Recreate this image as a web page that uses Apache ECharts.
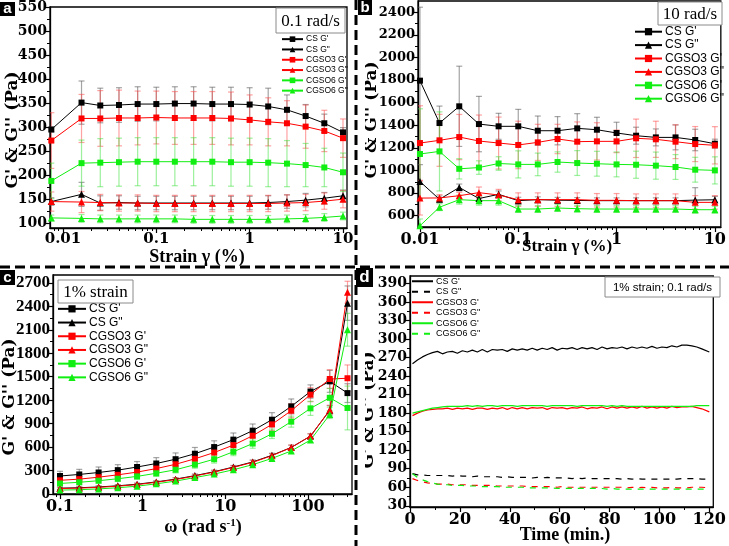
<!DOCTYPE html>
<html><head><meta charset="utf-8">
<script src="https://cdn.jsdelivr.net/npm/echarts@6/dist/echarts.min.js"></script>
<style>html,body{margin:0;padding:0;background:#fff}#c{width:729px;height:546px}</style>
</head><body><div id="c"></div>
<script>
// ---------- names ----------
const seriesNames = ["CS G'", 'CS G"', "CGSO3 G'", 'CGSO3 G"', "CGSO6 G'", 'CGSO6 G"'];

// ---------- panel a : strain sweep at 0.1 rad/s ----------
const aStrain = [0.0075,0.0158,0.0251,0.0398,0.0631,0.1,0.158,0.251,0.398,0.631,1,1.58,2.51,3.98,6.31,10];
const aCS_G1 = [295,351,345,346,348,348,349,349,348,348,347,343,336,323,308,289];
const aS3_G1 = [272,318,318,319,319,320,319,319,319,318,315,311,308,301,292,277];
const aS6_G1 = [188,225,226,227,228,228,228,228,228,227,227,226,224,221,216,206];
const aCS_G2 = [145,160,142,143,142,142,142,142,142,142,142,143,145,148,152,157];
const aS3_G2 = [145,144,143,142,142,141,141,141,141,141,141,141,142,143,146,150];
const aS6_G2 = [111,110,109,109,109,109,109,108,108,108,108,108,109,110,112,115];
const aCS_G1e = [5,45,36,36,36,35,35,35,35,35,35,38,31,24,19,10];
const aS3_G1e = [58,50,58,58,56,55,55,55,55,55,52,50,47,45,43,40];
const aS6_G1e = [37,48,50,50,50,50,50,50,50,50,50,50,48,45,40,40];
const aCS_G2e = [8,25,15,14,14,14,14,14,14,14,14,14,14,14,12,12];
const aS3_G2e = [20,22,17,17,17,17,17,17,17,17,17,17,17,17,17,18];
const aS6_G2e = [6,8,8,8,8,8,8,8,8,8,8,8,8,8,8,8];
const aXTicks = [0.01,0.1,1,10];
const aXMinor = [0.008,0.009,0.02,0.03,0.04,0.05,0.06,0.07,0.08,0.09,0.2,0.3,0.4,0.5,0.6,0.7,0.8,0.9,2,3,4,5,6,7,8,9];
const aYTicks = [100,150,200,250,300,350,400,450,500,550];
const aYMinor = [125,175,225,275,325,375,425,475,525];

// ---------- panel b : strain sweep at 10 rad/s ----------
const bStrain = [0.01,0.0158,0.0251,0.0398,0.0631,0.1,0.158,0.251,0.398,0.631,1,1.58,2.51,3.98,6.31,10];
const bCS_G1 = [1795,1420,1568,1411,1391,1391,1352,1352,1373,1361,1332,1308,1293,1293,1270,1237];
const bS3_G1 = [1243,1267,1296,1261,1243,1226,1249,1279,1255,1258,1258,1285,1276,1255,1234,1223];
const bS6_G1 = [1146,1169,1015,1026,1062,1054,1054,1075,1066,1060,1054,1051,1043,1031,1007,1001];
const bCS_G2 = [902,745,850,752,789,733,742,737,735,733,733,733,733,733,738,741];
const bS3_G2 = [756,757,777,804,783,742,742,742,742,736,736,733,733,733,718,718];
const bS6_G2 = [511,675,742,733,733,659,659,668,662,659,659,659,659,659,653,653];
const bCS_G1e = [650,150,355,245,115,150,130,125,130,110,95,75,75,110,95,40];
const bS3_G1e = [330,230,200,230,230,210,160,130,175,165,100,170,160,150,155,165];
const bS6_G1e = [400,350,90,60,60,120,100,90,110,110,110,120,120,110,110,120];
const bCS_G2e = [150,30,30,30,30,30,25,25,25,25,25,25,25,25,110,30];
const bS3_G2e = [150,30,30,50,50,60,60,60,60,60,60,60,60,60,60,60];
const bS6_G2e = [60,30,40,40,40,30,30,30,30,30,30,30,30,30,30,30];
const bXTicks = [0.01,0.1,1,10];
const bXMinor = [0.02,0.03,0.04,0.05,0.06,0.07,0.08,0.09,0.2,0.3,0.4,0.5,0.6,0.7,0.8,0.9,2,3,4,5,6,7,8,9];
const bYTicks = [600,800,1000,1200,1400,1600,1800,2000,2200,2400];
const bYMinor = [700,900,1100,1300,1500,1700,1900,2100,2300];

// ---------- panel c : frequency sweep at 1% strain ----------
const cOmega = [0.1,0.171,0.293,0.5,0.855,1.46,2.5,4.28,7.32,12.5,21.4,36.6,62.6,107,183,300];
const cCS_G1 = [230,250,275,305,345,390,445,515,600,695,810,950,1120,1310,1440,1290];
const cS3_G1 = [175,190,215,245,280,325,380,450,530,625,745,890,1065,1270,1470,1480];
const cS6_G1 = [135,150,170,195,225,265,310,375,445,540,645,770,925,1095,1230,1100];
const cCS_G2 = [75,80,90,105,125,155,190,235,285,345,410,495,595,740,1070,2440];
const cS3_G2 = [70,75,85,100,120,150,185,230,280,340,405,490,595,740,1075,2580];
const cS6_G2 = [50,55,65,80,100,130,165,210,255,310,375,455,550,690,1015,2100];
const cCS_G1e = [60,65,70,70,70,75,80,80,80,85,85,90,95,85,140,120];
const cS3_G1e = [40,45,50,50,55,60,60,65,70,70,75,80,90,90,120,170];
const cS6_G1e = [25,30,30,35,35,40,40,45,50,50,60,60,70,90,120,280];
const cCS_G2e = [15,15,15,15,15,15,20,20,20,20,25,25,30,30,60,220];
const cS3_G2e = [15,15,15,15,15,15,20,20,20,20,25,25,30,30,60,140];
const cS6_G2e = [10,10,10,10,10,15,15,15,15,20,20,25,25,30,50,210];
const cXTicks = [0.1,1,10,100];
const cXMinor = [0.09,0.2,0.3,0.4,0.5,0.6,0.7,0.8,0.9,2,3,4,5,6,7,8,9,20,30,40,50,60,70,80,90,200,300];
const cYTicks = [0,300,600,900,1200,1500,1800,2100,2400,2700];
const cYMinor = [150,450,750,1050,1350,1650,1950,2250,2550];

// ---------- panel d : time sweep, 1% strain, 0.1 rad/s ----------
const dTime = [1,3,5,7,9,11,13,15,17,19,21,23,25,27,29,31,33,35,37,39,41,43,45,47,49,51,53,55,57,59,
               61,63,65,67,69,71,73,75,77,79,81,83,85,87,89,91,93,95,97,99,101,103,105,107,109,111,113,115,117,120];
const dCS_G1 = [260,266,271,275,278,280,276,279,280,277,281,279,282,279,283,279,283,282,283,280,
                284,282,284,282,285,282,285,283,286,282,285,284,286,283,286,284,286,283,287,284,
                286,285,287,284,287,285,287,285,288,285,287,286,289,287,290,290,289,287,284,279];
const dS3_G1 = [176,180,183,185,186,187,187,188,186,188,187,188,186,188,188,186,188,187,189,186,
                189,187,189,187,189,188,189,186,189,188,189,187,189,188,190,187,189,188,190,187,
                190,188,190,188,190,188,191,188,190,188,190,188,191,189,190,190,191,189,187,182];
const dS6_G1 = [180,182,184,186,188,189,190,191,191,191,191,192,191,192,191,192,192,191,192,192,
                192,191,192,192,192,192,192,191,192,192,192,192,192,191,192,192,192,192,192,191,
                192,191,192,191,191,191,191,191,191,191,191,191,191,191,191,191,191,192,192,192];
const dCS_G2 = [82,80,80,79,79,79,79,79,78,79,78,78,77,78,77,77,77,77,76,77,
                76,76,76,76,75,76,75,76,75,75,75,75,74,75,74,75,74,74,74,74,
                74,74,73,74,73,74,73,73,73,73,73,73,73,73,74,74,74,74,73,73];
const dS3_G2 = [74,71,69,67,66,65,65,65,64,64,64,64,63,63,63,63,63,62,62,62,
                62,62,62,61,61,61,61,61,61,60,61,60,60,60,60,60,60,60,60,60,
                60,60,60,59,60,59,60,59,60,59,59,59,60,59,59,59,60,60,60,59];
const dS6_G2 = [82,76,72,69,67,65,64,64,63,63,63,62,62,62,61,61,61,61,60,60,
                60,60,60,59,59,59,59,59,59,58,58,58,58,58,58,58,58,58,58,57,
                58,57,57,57,57,57,57,57,57,57,57,57,57,57,57,57,57,57,57,57];
const dXTicks = [0,20,40,60,80,100,120];
const dXMinor = [10,30,50,70,90,110];
const dYTicks = [30,60,90,120,150,180,210,240,270,300,330,360,390];
const dYMinor = [45,75,105,135,165,195,225,255,285,315,345,375];

// ---------- styling ----------
const COL = {cs:'#000000', s3:'#ff0000', s6:'#11ee11'};
const ECOL = {cs:'rgba(90,90,90,0.55)', s3:'rgba(255,70,70,0.5)', s6:'rgba(60,225,60,0.5)'};
const SERIF_B = 'DejaVu Serif';
const TIMES = 'Liberation Serif';

function logFmt(v){
  const l = Math.log10(v);
  if (Math.abs(l - Math.round(l)) > 1e-6) return '';
  return String(+Math.pow(10, Math.round(l)).toPrecision(6));
}

function axisPair(dim, gi, type, min, max, major, minor, fontSize, family, margin) {
  const isX = dim === 'x';
  const pos = isX ? 'bottom' : 'left';
  const main = {
    type, gridIndex: gi, position: pos, min, max,
    axisLine: {show: true, onZero: false, lineStyle: {color: '#000', width: 1.3}},
    axisTick: {show: true, inside: false, length: 5, customValues: major, lineStyle: {color: '#000', width: 1.2}},
    axisLabel: {show: true, customValues: major, fontFamily: family, fontWeight: 'bold', fontSize, color: '#000', margin,
                formatter: type === 'log' ? logFmt : (v => String(v))},
    splitLine: {show: false}, minorTick: {show: false}, minorSplitLine: {show: false}
  };
  const sub = {
    type, gridIndex: gi, position: pos, min, max,
    axisLine: {show: false},
    axisTick: {show: true, inside: false, length: 3, customValues: minor, lineStyle: {color: '#000', width: 1}},
    axisLabel: {show: false},
    splitLine: {show: false}
  };
  return [main, sub];
}

const xAxes = [].concat(
  axisPair('x', 0, 'log', 0.00726, 11.04, aXTicks, aXMinor, 15, SERIF_B, 4),
  axisPair('x', 1, 'log', 0.00955, 11.5, bXTicks, bXMinor, 16, SERIF_B, 5),
  axisPair('x', 2, 'log', 0.0823, 340, cXTicks, cXMinor, 16, SERIF_B, 5),
  axisPair('x', 3, 'value', 0, 121.6, dXTicks, dXMinor, 16, SERIF_B, 5)
);
const yAxes = [].concat(
  axisPair('y', 0, 'value', 90, 550, aYTicks, aYMinor, 14, SERIF_B, 3),
  axisPair('y', 1, 'value', 500, 2500, bYTicks, bYMinor, 13, SERIF_B, 3),
  axisPair('y', 2, 'value', 0, 2800, cYTicks, cYMinor, 17, TIMES, 3),
  axisPair('y', 3, 'value', 28, 402, dYTicks, dYMinor, 14, SERIF_B, 3)
);

function lineS(name, xs, ys, color, symbol, ai) {
  return {type: 'line', name, xAxisIndex: ai, yAxisIndex: ai,
    data: xs.map((x, i) => [x, ys[i]]), symbol, symbolSize: symbol === 'rect' ? 6 : 7,
    showSymbol: true, lineStyle: {color, width: 1}, itemStyle: {color}, z: 4, animation: false};
}
function errS(xs, ys, es, color, ai) {
  return {type: 'custom', name: 'errbar', xAxisIndex: ai, yAxisIndex: ai, silent: true, z: 3, clip: true,
    data: xs.map((x, i) => [x, ys[i] - es[i], ys[i] + es[i]]), encode: {x: 0, y: [1, 2]},
    renderItem: function (params, api) {
      const x = api.value(0), lo = api.value(1), hi = api.value(2);
      const p1 = api.coord([x, hi]), p2 = api.coord([x, lo]);
      const w = 3, st = {stroke: color, lineWidth: 1.2};
      return {type: 'group', children: [
        {type: 'line', shape: {x1: p1[0], y1: p1[1], x2: p2[0], y2: p2[1]}, style: st},
        {type: 'line', shape: {x1: p1[0] - w, y1: p1[1], x2: p1[0] + w, y2: p1[1]}, style: st},
        {type: 'line', shape: {x1: p2[0] - w, y1: p2[1], x2: p2[0] + w, y2: p2[1]}, style: st}
      ]};
    }, animation: false};
}
function panelSeries(xs, sets, ai) {
  const out = [];
  sets.forEach(s => out.push(errS(xs, s[0], s[1], ECOL[s[2]], ai)));
  sets.forEach(s => out.push(lineS(seriesNames[s[4]], xs, s[0], COL[s[2]], s[3], ai)));
  return out;
}

const series = [].concat(
  panelSeries(aStrain, [
    [aCS_G1, aCS_G1e, 'cs', 'rect', 0], [aCS_G2, aCS_G2e, 'cs', 'triangle', 1],
    [aS3_G1, aS3_G1e, 's3', 'rect', 2], [aS3_G2, aS3_G2e, 's3', 'triangle', 3],
    [aS6_G1, aS6_G1e, 's6', 'rect', 4], [aS6_G2, aS6_G2e, 's6', 'triangle', 5]], 0),
  panelSeries(bStrain, [
    [bCS_G1, bCS_G1e, 'cs', 'rect', 0], [bCS_G2, bCS_G2e, 'cs', 'triangle', 1],
    [bS3_G1, bS3_G1e, 's3', 'rect', 2], [bS3_G2, bS3_G2e, 's3', 'triangle', 3],
    [bS6_G1, bS6_G1e, 's6', 'rect', 4], [bS6_G2, bS6_G2e, 's6', 'triangle', 5]], 2),
  panelSeries(cOmega, [
    [cCS_G1, cCS_G1e, 'cs', 'rect', 0], [cCS_G2, cCS_G2e, 'cs', 'triangle', 1],
    [cS3_G1, cS3_G1e, 's3', 'rect', 2], [cS3_G2, cS3_G2e, 's3', 'triangle', 3],
    [cS6_G1, cS6_G1e, 's6', 'rect', 4], [cS6_G2, cS6_G2e, 's6', 'triangle', 5]], 4)
);
// panel d: plain lines (names with trailing space so the legend uses these styles)
const dSets = [[dCS_G1, 'cs', 'solid'], [dCS_G2, 'cs', 'dashed'], [dS3_G1, 's3', 'solid'],
               [dS3_G2, 's3', 'dashed'], [dS6_G1, 's6', 'solid'], [dS6_G2, 's6', 'dashed']];
const dNames = seriesNames.map(n => n + ' ');
dSets.forEach((s, i) => series.push({
  type: 'line', name: dNames[i], xAxisIndex: 6, yAxisIndex: 6,
  data: dTime.map((t, j) => [t, s[0][j]]), symbol: 'none', showSymbol: false,
  lineStyle: {color: COL[s[1]], width: 1.2, type: s[2] === 'dashed' ? [6, 6] : 'solid'},
  itemStyle: {color: COL[s[1]]}, z: 4, animation: false
}));

function legendAt(left, top, names, itemW, itemH, rowH, fontSize, hideSymbol) {
  const lg = {show: true, orient: 'vertical', left, top, itemGap: 0, itemWidth: itemW, itemHeight: itemH,
    padding: 0, data: names, selectedMode: false,
    textStyle: {fontFamily: 'Liberation Sans', fontSize, color: '#000', lineHeight: rowH, padding: [0, 0, 0, -2]}};
  if (hideSymbol) lg.itemStyle = {opacity: 0, borderWidth: 0};
  return lg;
}

const grids = [
  {left: 50, top: 7, width: 297, height: 221},
  {left: 418, top: 1, width: 308, height: 226},
  {left: 53, top: 275, width: 299, height: 219},
  {left: 410, top: 276, width: 311, height: 231}
].map(g => Object.assign(g, {show: true, borderColor: '#000', borderWidth: 1.3, backgroundColor: 'transparent', containLabel: false}));

function ytitle(x, y, size, fam) {
  return {type: 'text', x, y, rotation: Math.PI / 2, z: 10,
    style: {text: "G' & G'' (Pa)", fontFamily: fam, fontWeight: 'bold', fontSize: size, fill: '#000', align: 'center', verticalAlign: 'middle'}};
}
function xtitle(x, y, text, size, fam) {
  return {type: 'text', x, y, z: 10,
    style: {text, fontFamily: fam, fontWeight: 'bold', fontSize: size, fill: '#000', align: 'center', verticalAlign: 'middle'}};
}
function box(x, y, w, h, text, fam, size) {
  return [
    {type: 'rect', z: 20, shape: {x, y, width: w, height: h}, style: {fill: '#fff', stroke: '#8a8a8a', lineWidth: 1}},
    {type: 'text', z: 21, x: x + w / 2, y: y + h / 2 + 1, style: {text, fontFamily: fam, fontSize: size, fill: '#000', align: 'center', verticalAlign: 'middle'}}
  ];
}
function letter(x, y, w, h, ch, size) {
  return [
    {type: 'rect', z: 40, shape: {x, y, width: w, height: h}, style: {fill: '#000'}},
    {type: 'text', z: 41, x: x + w / 2, y: y + h / 2, style: {text: ch, fontFamily: 'Liberation Sans', fontWeight: 'bold', fontSize: size, fill: '#fff', align: 'center', verticalAlign: 'middle'}}
  ];
}

const graphic = [].concat(
  ytitle(13, 130, 17, SERIF_B),
  ytitle(372, 120, 17, SERIF_B),
  ytitle(10, 397, 17, SERIF_B),
  ytitle(369, 410, 17, SERIF_B),
  // clip the left side of the b and d y titles
  {type: 'rect', z: 30, shape: {x: 356, y: 0, width: 9, height: 546}, style: {fill: '#fff'}},
  xtitle(197, 257, 'Strain γ (%)', 18, TIMES),
  xtitle(567, 247, 'Strain γ (%)', 17, TIMES),
  {type: 'text', x: 203, y: 527, z: 10, style: {
    text: '{n|ω (rad s}{s|-1}{n|)}', align: 'center', verticalAlign: 'middle',
    rich: {n: {fontFamily: TIMES, fontWeight: 'bold', fontSize: 18, fill: '#000', verticalAlign: 'bottom'},
           s: {fontFamily: TIMES, fontWeight: 'bold', fontSize: 11, fill: '#000', verticalAlign: 'top'}}}},
  xtitle(565, 535, 'Time (min.)', 18, TIMES),
  box(276, 8, 69, 25, '0.1 rad/s', TIMES, 17),
  box(658, 2, 64, 23, '10 rad/s', TIMES, 17),
  box(58, 280, 75, 23, '1% strain', TIMES, 17),
  box(605, 277, 115, 20, '1% strain; 0.1 rad/s', 'Liberation Sans', 11.5),
  // dashed separators
  {type: 'line', z: 35, shape: {x1: 0, y1: 267, x2: 729, y2: 267}, style: {stroke: '#000', lineWidth: 3, lineDash: [10, 5]}},
  {type: 'line', z: 35, shape: {x1: 356, y1: 0, x2: 356, y2: 546}, style: {stroke: '#000', lineWidth: 3, lineDash: [10, 5]}},
  letter(0, 2, 15, 14, 'a', 15),
  letter(358, 0, 14, 15, 'b', 15),
  letter(0, 270, 15, 15, 'c', 15),
  letter(356, 268, 17, 19, 'd', 17)
);

const option = {
  backgroundColor: '#fff',
  animation: false,
  grid: grids,
  xAxis: xAxes,
  yAxis: yAxes,
  legend: [
    legendAt(281, 34, seriesNames, 21, 7, 10.3, 8.5, false),
    legendAt(634, 25, seriesNames, 27, 9, 13.4, 12, false),
    legendAt(57, 302, seriesNames, 28, 9, 13.7, 12, false),
    legendAt(411, 276, dNames, 21, 7, 10.5, 9, true)
  ],
  series,
  graphic
};
const chart = echarts.init(document.getElementById('c'), null, {renderer: 'canvas'});
chart.setOption(option);
</script></body></html>
